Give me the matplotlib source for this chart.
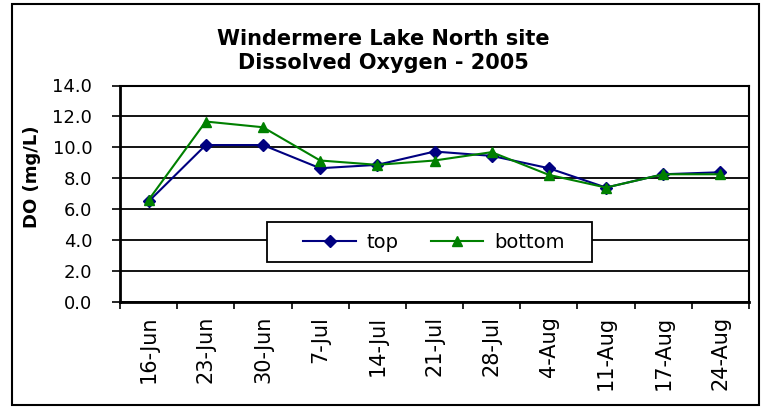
import matplotlib
matplotlib.use('Agg')
import matplotlib.pyplot as plt
from matplotlib.patches import Rectangle
import numpy as np

# sampling dates and dissolved oxygen readings (mg/L)
DATES  = ['16-Jun', '23-Jun', '30-Jun', '7-Jul', '14-Jul', '21-Jul',
          '28-Jul', '4-Aug', '11-Aug', '17-Aug', '24-Aug']
TOP    = [6.5, 10.15, 10.15, 8.65, 8.87, 9.73, 9.45, 8.65, 7.4, 8.26, 8.39]
BOTTOM = [6.6, 11.67, 11.3, 9.15, 8.87, 9.15, 9.69, 8.22, 7.4, 8.26, 8.26]
YTICKS = [0, 2, 4, 6, 8, 10, 12, 14]

plt.rcParams['font.family'] = ['DejaVu Sans']

W, H = 764, 408
fig = plt.figure(figsize=(W / 100, H / 100), dpi=100)
fig.patch.set_facecolor('white')

# outer frame around the whole chart
fig.patches.append(Rectangle((12 / W, 1 - 405 / H), (759 - 12) / W, (405 - 4) / H,
                             transform=fig.transFigure, fill=False,
                             edgecolor='black', lw=1.5))

ax = fig.add_axes([120 / W, 1 - 302 / H, (749 - 120) / W, (302 - 85.5) / H])

x = np.arange(len(DATES))
ax.plot(x, TOP, color='#000080', lw=1.5, marker='D', ms=6,
        label='top', zorder=3)
ax.plot(x, BOTTOM, color='#008000', lw=1.5, marker='^', ms=7.5,
        label='bottom', zorder=3)

ax.set_xlim(-0.5, len(DATES) - 0.5)
ax.set_ylim(0, 14)
ax.set_yticks(YTICKS)
ax.set_yticklabels([f'{v:.1f}' for v in YTICKS], fontsize=13)
for v in YTICKS:
    ax.axhline(v, color='black', lw=1.3, zorder=1)

ax.set_xticks(x)
ax.set_xticklabels(DATES, rotation=90, fontsize=15)
ax.set_xticks(np.arange(len(DATES) + 1) - 0.5, minor=True)
ax.tick_params(axis='x', which='major', length=0, pad=10)
ax.tick_params(axis='x', which='minor', length=5, width=1.2, direction='out')
ax.tick_params(axis='y', which='major', length=6, width=1.2, direction='out')
ax.tick_params(axis='y', which='major', pad=14)

for sp in ax.spines.values():
    sp.set_color('black')
    sp.set_linewidth(1.5)
ax.spines['bottom'].set_linewidth(2)
ax.spines['left'].set_linewidth(2)

fig.text(32 / W, 1 - 176.5 / H, 'DO (mg/L)', rotation=90, fontsize=13,
         fontweight='bold', ha='center', va='center')

fig.text(383 / W, 1 - 51 / H, 'Windermere Lake North site\nDissolved Oxygen - 2005',
         ha='center', va='center', fontsize=15, fontweight='bold',
         linespacing=1.2)

# legend box (Excel style: wide white frame over the gridlines)
ax.add_patch(Rectangle((0.2337, 0.185), 0.750 - 0.2337, 0.3695 - 0.185,
                       transform=ax.transAxes, facecolor='white',
                       edgecolor='black', lw=1.3, zorder=4))
leg = ax.legend(loc='center', bbox_to_anchor=(0.499, 0.277), ncol=2,
                fontsize=14, frameon=False, handlelength=2.7,
                handletextpad=0.55, columnspacing=1.65, borderpad=0.2)
leg.set_zorder(5)

plt.savefig('out.png', dpi=100, facecolor='white')
plt.close()
